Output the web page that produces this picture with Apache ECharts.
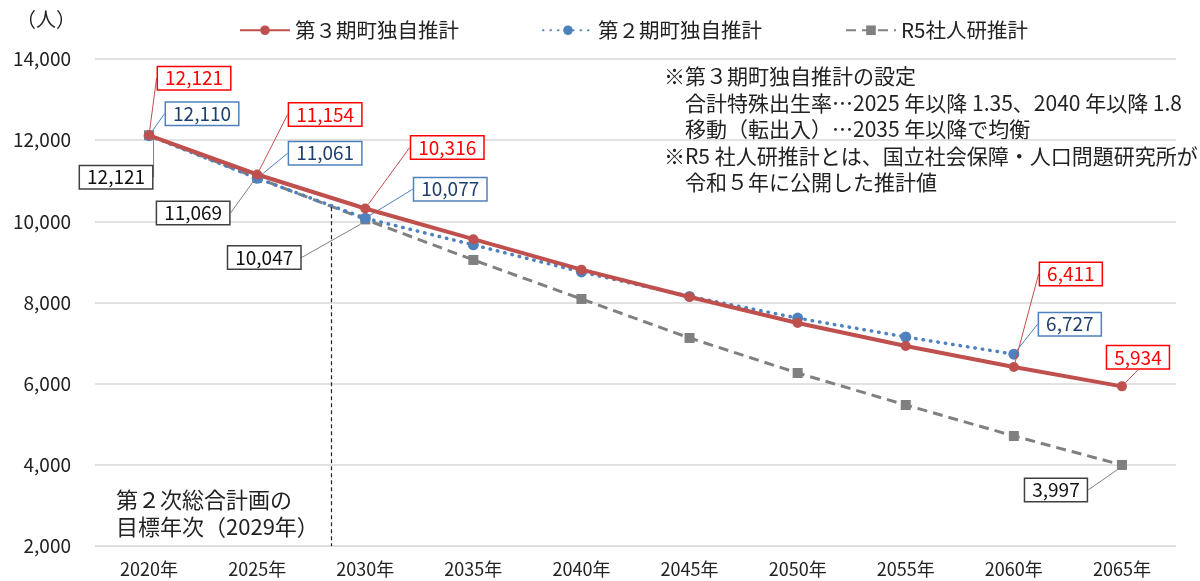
<!DOCTYPE html>
<html>
<head>
<meta charset="utf-8">
<script src="https://cdn.jsdelivr.net/npm/echarts@6/dist/echarts.min.js"></script>
<style>
html,body{margin:0;padding:0;background:#fff;}
#main{width:1200px;height:581px;}
</style>
</head>
<body>
<div id="main"></div>
<script>
// データ
var years = ['2020年','2025年','2030年','2035年','2040年','2045年','2050年','2055年','2060年','2065年'];
var dai3 = [12121, 11154, 10316, 9560, 8810, 8136, 7495, 6930, 6411, 5934];
var dai2 = [12110, 11061, 10077, 9420, 8752, 8150, 7615, 7150, 6727, null];
var r5 = [12121, 11069, 10047, 9048, 8087, 7126, 6263, 5475, 4711, 3997];
var yTicks = [2000, 4000, 6000, 8000, 10000, 12000, 14000];
var seriesNames = ['第３期町独自推計','第２期町独自推計','R5社人研推計'];

// ラベルを出す点
var showLabel = [
	[0, 1, 2, 8, 9],
	[0, 1, 2, 8],
	[0, 1, 2, 9]
];
// ラベル位置(点からのずれ)
var labelOffset = [
	{0:[45,-57], 1:[68,-60], 2:[82,-61], 8:[57,-93], 9:[16,-29]},
	{0:[53,-22], 1:[68,-25], 2:[85,-29], 8:[56,-30]},
	{0:[-33,42], 1:[-64,35], 2:[-101,38], 9:[-66,25]}
];

// 目標年次の縦線(カテゴリ位置 2025年=1, 2030年=2)
var targetPos = 1.69;
var targetTop = 10350;

var font = '"Noto Sans CJK JP", sans-serif';

function fmt(v) {
	return v.toLocaleString('en-US');
}

function buildData(arr, idx) {
	return arr.map(function(v, i) {
		return {
			value: v,
			label: { show: showLabel[idx].indexOf(i) >= 0 }
		};
	});
}

function labelStyle(textColor, borderColor) {
	return {
		position: 'inside',
		formatter: function(p) { return fmt(p.value); },
		color: textColor,
		fontFamily: font,
		fontSize: 19,
		backgroundColor: '#fff',
		borderColor: borderColor,
		borderWidth: 1.5,
		padding: [2, 7, 1, 7]
	};
}

function layoutFn(sIdx) {
	return function(params) {
		var o = labelOffset[sIdx][params.dataIndex];
		if (!o) return {};
		return { dx: o[0], dy: o[1] };
	};
}

var chart = echarts.init(document.getElementById('main'));

var option = {
	animation: false,
	backgroundColor: '#fff',
	textStyle: { fontFamily: font },
	grid: {
		left: 95,
		right: 24,
		top: 59,
		bottom: 35
	},
	legend: {
		top: 15,
		left: 234,
		itemWidth: 50,
		itemHeight: 12,
		itemGap: 83,
		textStyle: {
			fontFamily: font,
			fontSize: 20.5,
			color: '#222'
		},
		data: seriesNames
	},
	xAxis: [{
		type: 'category',
		data: years,
		axisLine: { lineStyle: { color: '#d9d9d9' } },
		axisTick: { show: false },
		axisLabel: {
			color: '#222',
			fontFamily: font,
			fontSize: 18,
			margin: 14
		}
	}, {
		// 縦線用の見えない軸
		type: 'value',
		show: false,
		min: -0.5,
		max: years.length - 0.5
	}],
	yAxis: {
		type: 'value',
		min: yTicks[0],
		max: yTicks[yTicks.length - 1],
		interval: 2000,
		axisLine: { show: false },
		axisTick: { show: false },
		axisLabel: {
			color: '#222',
			fontFamily: font,
			fontSize: 19,
			margin: 24,
			formatter: function(v) { return fmt(v); }
		},
		splitLine: { lineStyle: { color: '#d9d9d9', width: 1.5 } }
	},
	graphic: [
		{
			type: 'text',
			left: 16,
			top: 9,
			style: { text: '（人）', font: '20px ' + font, fill: '#222' }
		},
		{
			type: 'text',
			left: 664,
			top: 63,
			style: {
				text: '※第３期町独自推計の設定\n' +
					'　合計特殊出生率…2025 年以降 1.35、2040 年以降 1.8\n' +
					'　移動（転出入）…2035 年以降で均衡\n' +
					'※R5 社人研推計とは、国立社会保障・人口問題研究所が\n' +
					'　令和５年に公開した推計値',
				font: '21px ' + font,
				lineHeight: 26.5,
				fill: '#222'
			}
		},
		{
			type: 'text',
			left: 116,
			top: 486,
			style: {
				text: '第２次総合計画の\n目標年次（2029年）',
				font: '22px ' + font,
				lineHeight: 27,
				fill: '#222'
			}
		}
	],
	series: [
		{
			name: seriesNames[0],
			type: 'line',
			data: buildData(dai3, 0),
			symbol: 'circle',
			symbolSize: 10,
			z: 4,
			itemStyle: { color: '#c0504d' },
			lineStyle: { color: '#c0504d', width: 4 },
			label: labelStyle('#ff0000', '#ff0000'),
			labelLine: { show: true, lineStyle: { color: '#c0504d', width: 1 } },
			labelLayout: layoutFn(0)
		},
		{
			name: seriesNames[1],
			type: 'line',
			data: buildData(dai2, 1),
			symbol: 'circle',
			symbolSize: 11,
			z: 3,
			itemStyle: { color: '#4f81bd' },
			lineStyle: { color: '#4f81bd', width: 3.5, type: [0.5, 7], cap: 'round' },
			label: labelStyle('#1f3f6e', '#4f81bd'),
			labelLine: { show: true, lineStyle: { color: '#4f81bd', width: 1 } },
			labelLayout: layoutFn(1)
		},
		{
			name: seriesNames[2],
			type: 'line',
			data: buildData(r5, 2),
			symbol: 'rect',
			symbolSize: 10,
			z: 2,
			itemStyle: { color: '#808080' },
			lineStyle: { color: '#808080', width: 3, type: [10, 6] },
			label: labelStyle('#111', '#404040'),
			labelLine: { show: true, lineStyle: { color: '#808080', width: 1 } },
			labelLayout: layoutFn(2)
		},
		{
			type: 'line',
			xAxisIndex: 1,
			data: [],
			silent: true,
			markLine: {
				silent: true,
				symbol: 'none',
				label: { show: false },
				lineStyle: { color: '#222', width: 1.2, type: [4, 3] },
				data: [[{ coord: [targetPos, targetTop] }, { coord: [targetPos, yTicks[0]] }]]
			}
		}
	]
};

chart.setOption(option);
</script>
</body>
</html>
